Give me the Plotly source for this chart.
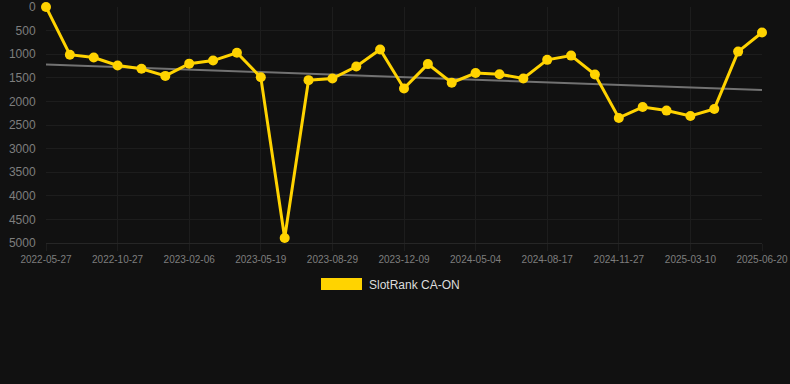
import numpy as np
import plotly.graph_objects as go

dates = [
    "2022-05-27", "2022-07-17", "2022-09-06", "2022-10-27", "2022-11-30", "2023-01-03",
    "2023-02-06", "2023-03-12", "2023-04-15", "2023-05-19", "2023-06-22", "2023-07-26",
    "2023-08-29", "2023-10-02", "2023-11-05", "2023-12-09", "2024-01-27", "2024-03-16",
    "2024-05-04", "2024-06-08", "2024-07-13", "2024-08-17", "2024-09-20", "2024-10-24",
    "2024-11-27", "2024-12-31", "2025-02-03", "2025-03-10", "2025-04-13", "2025-05-17",
    "2025-06-20",
]
ranks = [
    0, 1010, 1070, 1240, 1310, 1460, 1200, 1135, 970, 1490, 4895, 1550,
    1515, 1260, 900, 1725, 1210, 1605, 1400, 1425, 1515, 1120, 1030, 1430,
    2350, 2120, 2195, 2310, 2160, 945, 540,
]
tick_labels = dates[::3]
y_ticks = [0, 500, 1000, 1500, 2000, 2500, 3000, 3500, 4000, 4500, 5000]
series_name = "SlotRank CA-ON"

gold = "#FFD300"
bg = "#111111"
grid = "#1d1d1d"
tick_col = "#7e7e7e"

idx = np.arange(len(ranks))
slope, intercept = np.polyfit(idx, ranks, 1)
trend = slope * idx + intercept

fig = go.Figure()
fig.add_trace(go.Scatter(
    x=dates, y=trend, mode="lines",
    line=dict(color="#727272", width=2),
    hoverinfo="skip", showlegend=False,
))
fig.add_trace(go.Scatter(
    x=dates, y=ranks, mode="lines+markers", name=series_name,
    line=dict(color=gold, width=3),
    marker=dict(color=gold, size=10),
    cliponaxis=False, showlegend=False,
))

fig.update_layout(
    width=790, height=384,
    paper_bgcolor=bg, plot_bgcolor=bg,
    margin=dict(l=46, r=28, t=7, b=141, autoexpand=False),
    font=dict(family="Liberation Sans, Arial, sans-serif", color=tick_col),
    showlegend=False,
)
fig.update_xaxes(
    type="category", range=[0, len(dates) - 1],
    tickmode="array", tickvals=tick_labels, ticktext=tick_labels,
    showgrid=True, gridcolor=grid, gridwidth=1,
    ticks="outside", ticklen=7, tickcolor=grid,
    tickfont=dict(size=10, color=tick_col),
    zeroline=False, showline=True, linecolor="#262626", linewidth=1,
    tickangle=0, automargin=False,
)
fig.update_yaxes(
    range=[5000, 0], tickmode="array", tickvals=y_ticks,
    showgrid=True, gridcolor=grid, gridwidth=1,
    ticks="outside", ticklen=7, tickcolor="rgba(0,0,0,0)",
    tickfont=dict(size=12, color=tick_col),
    zeroline=False, showline=False, automargin=False,
)

# Chart.js-style legend: filled box plus label
fig.add_shape(type="rect", xref="paper", yref="paper",
              x0=(321 - 46) / 716, x1=(362 - 46) / 716,
              y0=(243 - 290) / 236, y1=(243 - 278) / 236,
              fillcolor=gold, line=dict(color=gold, width=0))
fig.add_annotation(text=series_name, xref="paper", yref="paper",
                   x=(367 - 46) / 716, y=(243 - 284.5) / 236,
                   xanchor="left", yanchor="middle", showarrow=False,
                   font=dict(size=12, color="#dddddd"))

fig.write_html(
    "out.html",
    config={"displayModeBar": False},
    post_script="document.body.style.margin='0';document.body.style.background='#111111';document.body.style.overflow='hidden';",
)
